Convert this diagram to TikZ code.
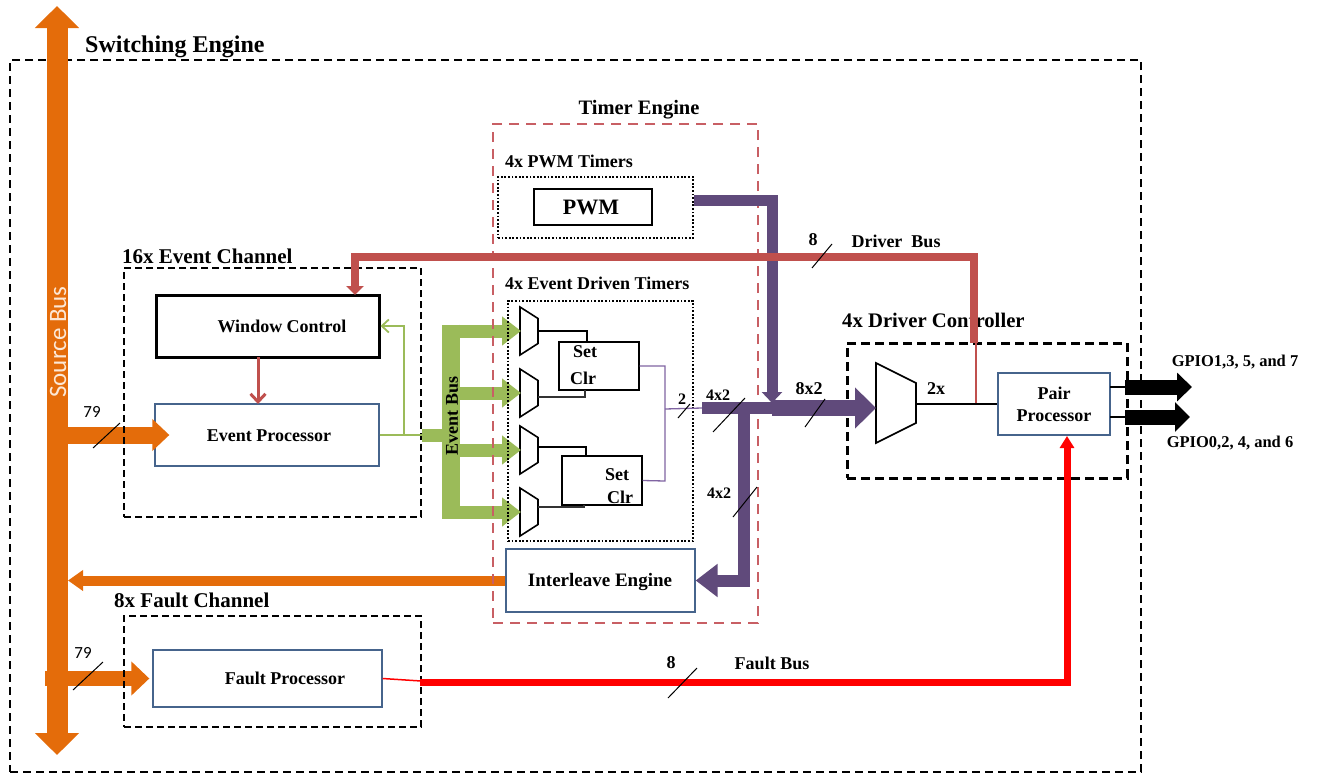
\documentclass[tikz,border=0pt]{standalone}
\usepackage{fontspec}
\setmainfont{Liberation Serif}
\newfontfamily\calib{Carlito}
\usetikzlibrary{arrows.meta,calc}
\definecolor{srcorange}{RGB}{228,108,10}
\definecolor{drvred}{RGB}{192,80,77}
\definecolor{evgreen}{RGB}{155,187,89}
\definecolor{bpurple}{RGB}{96,74,123}
\definecolor{lpurple}{RGB}{128,100,162}
\definecolor{boxblue}{RGB}{70,100,140}
\definecolor{srctext}{RGB}{252,232,214}
\definecolor{tered}{RGB}{200,95,100}
\begin{document}
\begin{tikzpicture}[x=1pt,y=-1pt,
  tf/.style={inner sep=0pt,font=\fontsize{#1}{#1}\selectfont\bfseries},
  pbox/.style={draw=boxblue,line width=1.3pt,fill=white,inner sep=0pt},
  wcbox/.style={draw=black,line width=3pt,fill=white,inner sep=0pt},
  srbox/.style={draw=black,line width=1.4pt,fill=white,inner sep=0pt},
  grpbox/.style={draw=black,line width=2pt,dash pattern=on 7pt off 4pt,inner sep=0pt},
  outerbox/.style={draw=black,line width=2pt,dash pattern=on 8pt off 5pt,inner sep=0pt},
  dcbox/.style={draw=black,line width=3pt,dash pattern=on 9pt off 5pt,inner sep=0pt},
  tebox/.style={draw=tered,line width=1.8pt,dash pattern=on 10pt off 7pt,inner sep=0pt},
  dotbox/.style={draw=black,line width=2pt,dash pattern=on 1.8pt off 1.8pt,inner sep=0pt},
  slash/.style={draw=black,line width=1pt},
  muxline/.style={draw=black,line width=1.6pt,fill=white},
  gthin/.style={draw=evgreen,line width=1.8pt},
  lbl79/.style={inner sep=0pt,font=\calib\fontsize{17}{17}\selectfont}
]
\useasboundingbox (0,0) rectangle (1323,774);

% ---- outer switching engine
\node[outerbox,minimum width=1131pt,minimum height=712pt] (SE) at (575.5,416) {};
\node[tf=24,anchor=west] (SElbl) at (85,47) {Switching Engine};

% ---- source bus
\coordinate (SBtop) at (57,6);
\coordinate (SBbot) at (57,755);
\draw[srcorange,line width=21pt,{Triangle[width=43pt,length=22pt]}-{Triangle[width=43pt,length=22pt]}] (SBtop) -- (SBbot);
\node[rotate=90,text=srctext,inner sep=0pt,font=\calib\fontsize{25}{25}\selectfont] (SBlbl) at (58,342) {Source Bus};

% ---- main boxes
\node[pbox,minimum width=224pt,minimum height=62pt] (EP) at (267,435) {};
\node[tf=18] (EPt) at (269,436) {Event Processor};
\node[wcbox,minimum width=223pt,minimum height=62pt] (WC) at (267.5,326) {};
\node[tf=18] (WCt) at (282,326) {Window Control};
\node[pbox,minimum width=229pt,minimum height=57pt] (FP) at (267.5,678.5) {};
\node[tf=18] (FPt) at (285,678) {Fault Processor};
\node[pbox,minimum width=189pt,minimum height=63pt] (IE) at (600.5,580.5) {};
\node[tf=19] (IEt) at (600,582) {Interleave Engine};
\node[draw=black,line width=2pt,inner sep=0pt,minimum width=118pt,minimum height=36pt] (PWM) at (593,207) {};
\node[tf=22] (PWMt) at (591,207) {PWM};
\node[pbox,minimum width=112pt,minimum height=62pt,align=center,font=\fontsize{18}{22}\selectfont\bfseries] (PP) at (1054,404) {Pair\\Processor};
\node[srbox,minimum width=80pt,minimum height=48pt] (SR1) at (599,366) {};
\node[tf=18] at (585,352) {Set};
\node[tf=18] at (583,378) {Clr};
\node[srbox,minimum width=80pt,minimum height=49pt] (SR2) at (602,480.5) {};
\node[tf=18] at (617,475) {Set};
\node[tf=18] at (620,497) {Clr};

% ---- muxes of event driven timers
\foreach \n/\cy in {1/331,2/393,3/450,4/512}{
  \draw[muxline] (520,{\cy-24}) -- (538,{\cy-12.5}) -- (538,{\cy+12.5}) -- (520,{\cy+24}) -- cycle;
  \coordinate (mux\n) at (521,\cy);
}
\coordinate (mo1) at (538,331); \coordinate (mo2) at (538,397);
\coordinate (mo3) at (538,447); \coordinate (mo4) at (538,507);
\draw[black,line width=2.5pt] (mo1) -- (587,331) -- (587,342);
\draw[black!80,line width=1.3pt] (mo2) -- (585,397) -- (585,390);
\draw[black,line width=2.5pt] (mo3) -- (586,447) -- (586,456);
\draw[black!80,line width=1.3pt] (mo4) -- (584,507) -- (584,505);

% ---- driver controller mux
\draw[muxline] (876,363) -- (916,383) -- (916,423) -- (876,443) -- cycle;
\coordinate (BMi) at (876,408);
\coordinate (BMo) at (916,404);

% ---- 79 arrows
\draw[srcorange,line width=17pt,-{Triangle[width=31pt,length=17pt]}] (SBtop |- EP) -- ($(EP.west)+(15,0)$);
\draw[srcorange,line width=15pt,-{Triangle[width=33pt,length=18pt]}] ($(SBtop |- FP)+(-12,0)$) -- ($(FP.west)+(-3,0)$);
\draw[srcorange,line width=10pt,-{Triangle[width=20pt,length=15pt]}] (IE.west) -- ($(SBtop |- IE.west)+(11,0)$);
\node[lbl79] at (92,412) {79};
\draw[slash] (93,448) -- (120,423);
\node[lbl79] at (83,653) {79};
\draw[slash] (73,690) -- (103,662);

% ---- group boxes
\node[grpbox,minimum width=297pt,minimum height=249pt] (EC) at (272.5,392.5) {};
\node[tf=21,anchor=west] at (122,256) {16x Event Channel};
\node[grpbox,minimum width=297pt,minimum height=111pt] (FC) at (272.5,671.5) {};
\node[tf=21,anchor=west] at (114,600) {8x Fault Channel};

% ---- green event bus
\draw[gthin,-{Straight Barb[length=7pt,width=13pt]}] (EP.east) -- (404,435) -- (404,326) -- (WC.east);
\draw[gthin] (EP.east) -- (424,435);
\draw[evgreen,line width=13pt] (422,435) -- (446,435);
\draw[evgreen,line width=18pt] (451,324.5) -- (451,518.5);
\foreach \n/\cy in {1/331,2/393,3/450,4/512}{
  \draw[evgreen,line width=13pt,-{Triangle[width=28pt,length=19pt]}] (442,\cy) -- (mux\n);
}
\node[tf=18,rotate=90] at (452,416) {Event Bus};

% ---- timer engine boxes
\node[tebox,minimum width=265pt,minimum height=499pt] (TE) at (625.5,373.5) {};
\node[tf=20.5] at (639,110) {Timer Engine};
\node[dotbox,minimum width=195pt,minimum height=61pt] (PT) at (595.5,207.5) {};
\node[tf=18,anchor=west] at (505,161) {4x PWM Timers};
\node[dotbox,minimum width=185pt,minimum height=240pt] (EDT) at (600.5,421) {};
\node[tf=18,anchor=west] at (505,283) {4x Event Driven Timers};

% ---- driver controller box
\node[dcbox,minimum width=280pt,minimum height=135pt] (DC) at (987,410.5) {};
\node[tf=20.7,anchor=west] at (842,320) {4x Driver Controller};

% ---- thin purple SR outputs
\coordinate (S2) at (702,408);
\draw[lpurple,line width=1.3pt] (SR1.east) -- (665,366) -- (665,481) -- (SR2.east);
\draw[lpurple,line width=1.3pt] (665,409) -- (S2);

% ---- purple buses
\coordinate (J1) at (772,408);
\coordinate (J2) at (744,408);
\draw[bpurple,line width=11pt,-{Triangle[width=20pt,length=11pt]}] ($(PT.east)+(0,-7)$) -- (772,200.5) -- (772,403);
\draw[bpurple,line width=12pt] (S2) -- (J1);
\draw[bpurple,line width=16pt,-{Triangle[width=40pt,length=21pt]}] (J1) -- (BMi);
\draw[bpurple,line width=12pt,-{Triangle[width=32pt,length=22pt]}] (J2) |- (IE.east);

% ---- driver bus
\coordinate (DCt) at (974,343);
\coordinate (WCn) at (355,295);
\draw[drvred,line width=8pt,-{Triangle[width=17pt,length=9pt]}] (DCt) -- (974,257) -- (355,257) -- (WCn);
\draw[drvred,line width=1.5pt] (976,343) -- (976,404);
\draw[drvred,line width=3pt,-{Straight Barb[length=8pt,width=15pt]}] (258,357) -- (258,404);

% ---- mux to pair processor
\draw[black,line width=1.5pt] (BMo) -- (PP.west);

% ---- fault bus
\coordinate (PPb) at (1067,436);
\draw[red,line width=1.5pt] (FP.east) -- (421,681);
\draw[red,line width=7pt,-{Triangle[width=14pt,length=12pt]}] (420,682) -- (1067,682) -- (PPb);

% ---- GPIO outputs
\draw[black,line width=1.5pt] (1110,387) -- (1127,387);
\draw[black,line width=1.5pt] (1110,417) -- (1127,417);
\draw[black,line width=15pt,-{Triangle[width=28pt,length=15pt]}] (1125,387) -- (1192,387);
\draw[black,line width=15pt,-{Triangle[width=29pt,length=15pt]}] (1125,417) -- (1190,417);
\node[tf=16.5] at (1235,362) {GPIO1,3, 5, and 7};
\node[tf=16.5] at (1230,443) {GPIO0,2, 4, and 6};

% ---- bus labels and slashes
\node[tf=18] at (813,240) {8};
\node[tf=18] at (896,241) {Driver\ \ Bus};
\draw[slash] (812,268) -- (832,244);
\node[tf=18] at (671,663) {8};
\node[tf=18] at (772,663) {Fault Bus};
\draw[slash] (668,698) -- (697,668);
\node[tf=16] at (682,399) {2};
\draw[slash] (678,418) -- (690,404);
\node[tf=16] at (718,395) {4x2};
\draw[slash] (713,432) -- (745,398);
\node[tf=16] at (719,493) {4x2};
\draw[slash] (733,517) -- (757,487);
\node[tf=18] at (809,389) {8x2};
\draw[slash] (805,427) -- (825,399);
\node[tf=18] at (936,389) {2x};
\end{tikzpicture}
\end{document}
